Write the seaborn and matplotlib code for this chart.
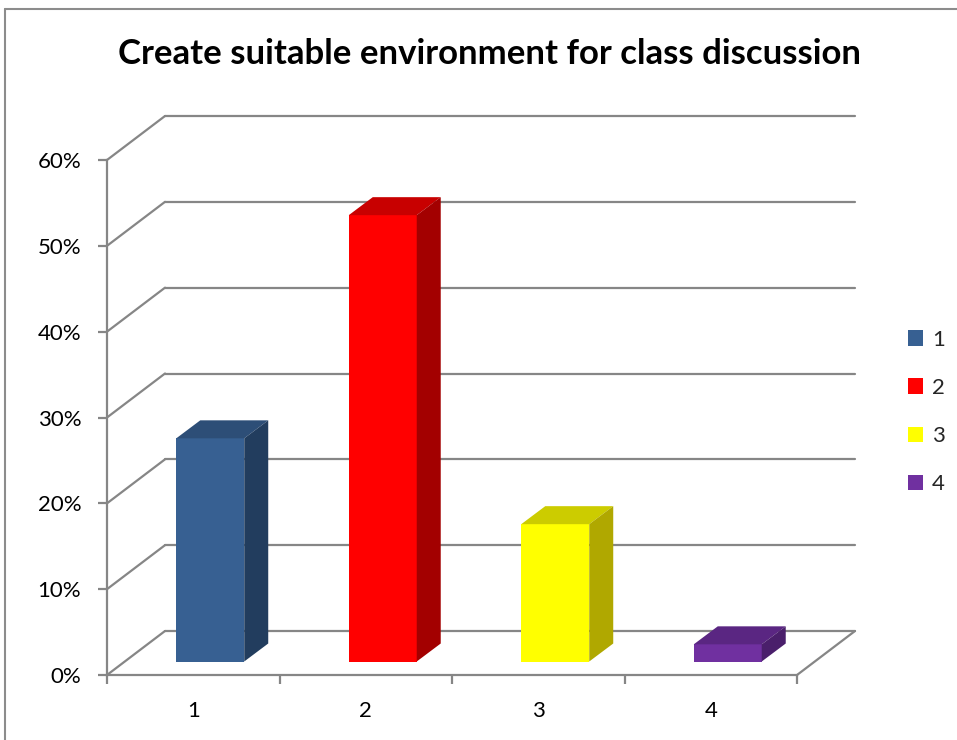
import matplotlib
matplotlib.use("Agg")
import matplotlib.pyplot as plt
import seaborn as sns
import pandas as pd
from matplotlib.patches import Polygon, Rectangle
from matplotlib.lines import Line2D

# Data
categories = ["1", "2", "3", "4"]
values = [26, 52, 16, 2]
front_colors = ["#376092", "#FF0000", "#FFFF00", "#7030A0"]
top_colors = ["#2D4E77", "#C80000", "#CCCC00", "#5A2682"]
side_colors = ["#223D5E", "#A30000", "#B0A800", "#4A1F6B"]
y_ticks = [0, 10, 20, 30, 40, 50, 60]
title = "Create suitable environment for class discussion"

sns.set_theme(style="white")
plt.rcParams['font.family'] = ['Lato', 'DejaVu Sans']

W, H = 957, 740
grid_col = "#868686"

fig = plt.figure(figsize=(W / 100, H / 100), dpi=100)
ax = fig.add_axes([107 / W, 1 - 675 / H, 690 / W, 515 / H])

df = pd.DataFrame({"cat": categories, "val": values})
sns.barplot(data=df, x="cat", y="val", hue="cat", palette=front_colors,
            saturation=1, width=0.394, legend=False, ax=ax, zorder=3)

ax.set_xlim(-0.5, 3.5)
ax.set_ylim(0, 60)

# pixel -> data conversion for the fake 3D depth
sx = 690 / 4
sy = 515 / 60
dxw, dyw = 58 / sx, 44 / sy          # wall depth
fx, fy = 17 / sx, 13.5 / sy          # bar front offset inside floor
bx, by = 24 / sx, 18 / sy            # bar depth

# back wall gridlines + side diagonals
for t in y_ticks:
    ax.add_line(Line2D([-0.5 + dxw, 3.5 + dxw], [t + dyw, t + dyw], color=grid_col,
                       lw=1.6, clip_on=False, zorder=1))
    ax.add_line(Line2D([-0.5, -0.5 + dxw], [t, t + dyw], color=grid_col,
                       lw=1.6, clip_on=False, zorder=1))
ax.add_line(Line2D([3.5, 3.5 + dxw], [0, dyw], color=grid_col, lw=1.6,
                   clip_on=False, zorder=1))

# 3D faces of the bars
for i, cont in enumerate(ax.containers):
    for bar in cont:
        x0, w, h = bar.get_x(), bar.get_width(), bar.get_height()
        bar.set_x(x0 + fx)
        bar.set_y(fy)
        bar.set_edgecolor("none")
        xl, xr = x0 + fx, x0 + fx + w
        top = [(xl, fy + h), (xr, fy + h), (xr + bx, fy + h + by), (xl + bx, fy + h + by)]
        side = [(xr, fy), (xr + bx, fy + by), (xr + bx, fy + h + by), (xr, fy + h)]
        ax.add_patch(Polygon(top, closed=True, facecolor=top_colors[i], edgecolor="none",
                             zorder=3, clip_on=False))
        ax.add_patch(Polygon(side, closed=True, facecolor=side_colors[i], edgecolor="none",
                             zorder=3, clip_on=False))

# axes styling
for s in ["top", "right"]:
    ax.spines[s].set_visible(False)
for s in ["left", "bottom"]:
    ax.spines[s].set_color(grid_col)
    ax.spines[s].set_linewidth(1.6)

ax.set_yticks(y_ticks, labels=[f"{t}%" for t in y_ticks])
ax.set_xticks([-0.5, 0.5, 1.5, 2.5, 3.5], labels=[""] * 5)
ax.set_xticks(range(len(categories)), labels=categories, minor=True)
ax.tick_params(axis="y", which="major", direction="out", length=6.5, width=1.6,
               color=grid_col, left=True, pad=12, labelsize=16, labelcolor="black")
ax.tick_params(axis="x", which="major", direction="out", length=6.5, width=1.6,
               color=grid_col, bottom=True)
ax.tick_params(axis="x", which="minor", length=0, pad=19, labelsize=16, labelcolor="black")
ax.set_xlabel("")
ax.set_ylabel("")
ax.patch.set_alpha(0)

# legend
handles = [Rectangle((0, 0), 1, 1, facecolor=c, edgecolor="none") for c in front_colors]
fig.legend(handles, categories, loc="center left", bbox_to_anchor=(908 / W, 1 - 412 / H),
           frameon=False, fontsize=16, handlelength=0.68, handleheight=0.68,
           handletextpad=0.4, labelspacing=1.27, borderpad=0, borderaxespad=0)

# title
fig.text(489 / W, 1 - 54 / H, title, ha="center", va="center", fontsize=25,
         fontweight="bold", color="black")

# chart border
fig.add_artist(Line2D([5 / W, 5 / W], [0, 1 - 9 / H], transform=fig.transFigure,
                      color="#8C8C8C", lw=1.5))
fig.add_artist(Line2D([5 / W, 1], [1 - 9 / H, 1 - 9 / H], transform=fig.transFigure,
                      color="#8C8C8C", lw=1.5))

fig.savefig("out.png", dpi=100)
